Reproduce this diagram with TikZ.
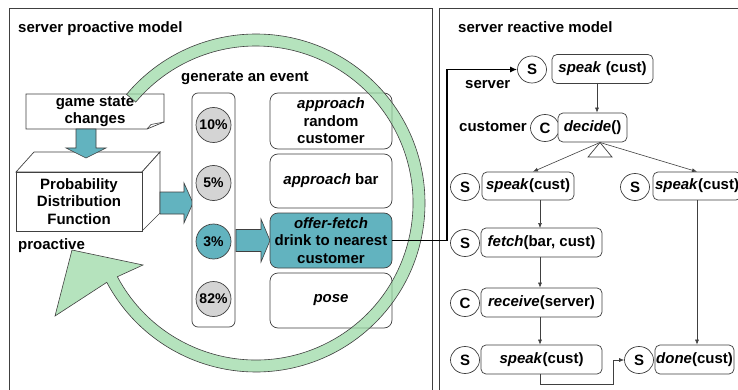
\documentclass[tikz,border=0pt]{standalone}
\usepackage{fontspec}
\setmainfont{Liberation Sans}
\usetikzlibrary{arrows.meta,shapes.geometric,calc}
\definecolor{tealc}{RGB}{98,179,191}
\definecolor{arcgreen}{RGB}{151,216,162}
\definecolor{circgray}{RGB}{212,212,212}
\definecolor{edgec}{RGB}{64,64,64}
\begin{document}
\begin{tikzpicture}[x=1pt,y=-1pt,
  font=\fontsize{15}{17.5}\selectfont\bfseries,
  panel/.style={draw=edgec, line width=0.9pt},
  evbox/.style={draw=edgec, line width=0.7pt, rounded corners=8pt, fill=white, align=center, minimum width=122pt, inner sep=0pt},
  pct/.style={circle, draw=edgec, line width=0.7pt, fill=circgray, minimum size=35pt, inner sep=0pt, font=\fontsize{14}{16}\selectfont\bfseries},
  actbox/.style={draw=edgec, line width=0.7pt, rounded corners=5pt, fill=white, minimum height=29pt, inner sep=0pt},
  agent/.style={ellipse, draw=edgec, line width=0.7pt, fill=white, minimum width=29pt, minimum height=27pt, inner sep=0pt},
  flow/.style={draw=edgec, line width=0.6pt, -{Latex[length=5pt,width=4pt]}},
  bigflow/.style={draw=black, line width=1.6pt, -{Latex[length=7pt,width=6pt]}},
  blockarrow/.style={fill=tealc, draw=edgec, line width=0.6pt},
  lbl/.style={anchor=base west, inner sep=0pt},
  shapeline/.style={draw=edgec, line width=0.7pt, fill=white}]
\useasboundingbox (0,0) rectangle (738,390);
\fill[white] (0,0) rectangle (738,390);
% panels
\draw[panel] (9,8) rectangle (432,400);
\draw[panel] (439,8) rectangle (760,400);
\node[lbl] (t1) at (18,33) {server proactive model};
\node[lbl] (t2) at (458,33) {server reactive model};
\node[lbl] (t3) at (181,82) {generate an event};
\node[lbl] (t4) at (18,249) {proactive};
% game state note
\path[shapeline] (26,94) -- (164,94) -- (164,122) -- (147,129) -- (26,129) -- cycle;
\draw[edgec, line width=0.6pt] (147,129) -- (151,124.5) -- (164,122);
\node[align=center, inner sep=0pt] (gs) at (95,111.5) {game state\\changes};
% PDF 3D box
\path[shapeline] (16,172) -- (34,152) -- (160,152) -- (142,172) -- cycle;
\path[shapeline] (142,172) -- (160,152) -- (160,213) -- (142,231) -- cycle;
\path[shapeline] (16,172) rectangle (142,231);
\node[align=center, inner sep=0pt] (pdf) at (79,201.5) {Probability\\Distribution\\Function};
% block arrows
\path[blockarrow] (76,129) -- (96,129) -- (96,148) -- (106,148) -- (86,158) -- (66,148) -- (76,148) -- cycle;
\path[blockarrow] (160,192) -- (184,192) -- (184,183) -- (193,203) -- (184,223) -- (184,214) -- (160,214) -- cycle;
% event column
\node[draw=edgec, line width=0.7pt, rounded corners=6pt, fill=white, minimum width=43pt, minimum height=234pt, inner sep=0pt] (col) at (213.5,210) {};
\node[pct] (p10) at (213.5,125) {10\%};
\node[pct] (p5) at (213.5,183) {5\%};
\node[pct, fill=tealc] (p3) at (213.5,241.5) {3\%};
\node[pct] (p82) at (213.5,299) {82\%};
\path[blockarrow] (236,229.5) -- (261,229.5) -- (261,219) -- (270,240.5) -- (261,262) -- (261,251.5) -- (236,251.5) -- cycle;
% event boxes
\node[evbox, minimum height=56pt] (ev1) at (331,121) {\textit{approach}\\random\\customer};
\node[evbox, minimum height=54pt] (ev2) at (331,181) {\textit{approach} bar};
\node[evbox, minimum height=55pt, fill=tealc] (ev3) at (331,240.5) {\textit{offer-fetch}\\drink to nearest\\customer};
\node[evbox, minimum height=55pt] (ev4) at (331,300.5) {\textit{pose}};
% green circular arrow
\coordinate (cc) at (256,203);
\path[fill=arcgreen, fill opacity=0.7, draw=edgec, line width=0.6pt]
  ($(cc)+(-140:169)$) arc[start angle=-140, end angle=152, radius=169]
  -- (55,316) -- (72,250) -- (143,265)
  -- ($(cc)+(152:157)$) arc[start angle=152, end angle=-140, radius=157] -- cycle;
% right panel
\node[lbl] (t5) at (465,89) {server};
\node[lbl] (t6) at (459,132) {customer};
\node[agent] (s0) at (532,69.5) {S};
\node[actbox, minimum width=101pt] (sp0) at (602.5,69) {\textit{speak} (cust)};
\node[agent] (c1) at (545,128) {C};
\node[actbox, minimum width=69pt] (dec) at (592.5,127.5) {\textit{decide}()};
\coordinate (tri) at (600,142.5);
\draw[edgec, line width=0.7pt, fill=white] (tri) -- (612,157) -- (588,157) -- cycle;
\node[agent] (s1) at (465,187) {S};
\node[actbox, minimum width=92pt, minimum height=28pt] (sp1) at (528,186) {\textit{speak}(cust)};
\node[agent] (s2) at (635,187) {S};
\node[actbox, minimum width=88pt, minimum height=28pt] (sp2) at (697,186) {\textit{speak}(cust)};
\node[agent] (s3) at (465,243) {S};
\node[actbox, minimum width=121pt] (fetch) at (541.5,242.5) {\textit{fetch}(bar, cust)};
\node[agent] (c2) at (465,303) {C};
\node[actbox, minimum width=121pt] (recv) at (541.5,302.5) {\textit{receive}(server)};
\node[agent] (s4) at (465,360) {S};
\node[actbox, minimum width=121pt] (sp3) at (541.5,359.5) {\textit{speak}(cust)};
\node[agent] (s5) at (639,360) {S};
\node[actbox, minimum width=79pt] (done) at (694.5,359.5) {\textit{done}(cust)};
% right panel connectors
\coordinate (a0) at (597,83);
\coordinate (a1) at (540,200);
\coordinate (a1e) at (540,228);
\draw[flow] (a0) -- (a0 |- dec.north);
\draw[flow] (tri) -- ($(sp1.north)+(5,0)$);
\draw[flow] (tri) -- (sp2.north);
\draw[flow] (a1) -- (a1e);
\draw[flow] ($(fetch.south)+(-1.5,0)$) -- ($(recv.north)+(-1.5,0)$);
\draw[flow] ($(recv.south)+(-1.5,0)$) -- ($(sp3.north)+(-1.5,0)$);
\draw[flow] (sp2.south) -- (sp2.south |- done.north);
\coordinate (jog) at (613,360);
\draw[flow] ($(sp3.south)+(-1.5,0)$) -- ++(0,10) -| (jog) -- (s5.west);
% big connector
\coordinate (bend) at (447,240.5);
\draw[bigflow] (ev3.east) -- (bend) |- (s0.west);
\end{tikzpicture}
\end{document}
